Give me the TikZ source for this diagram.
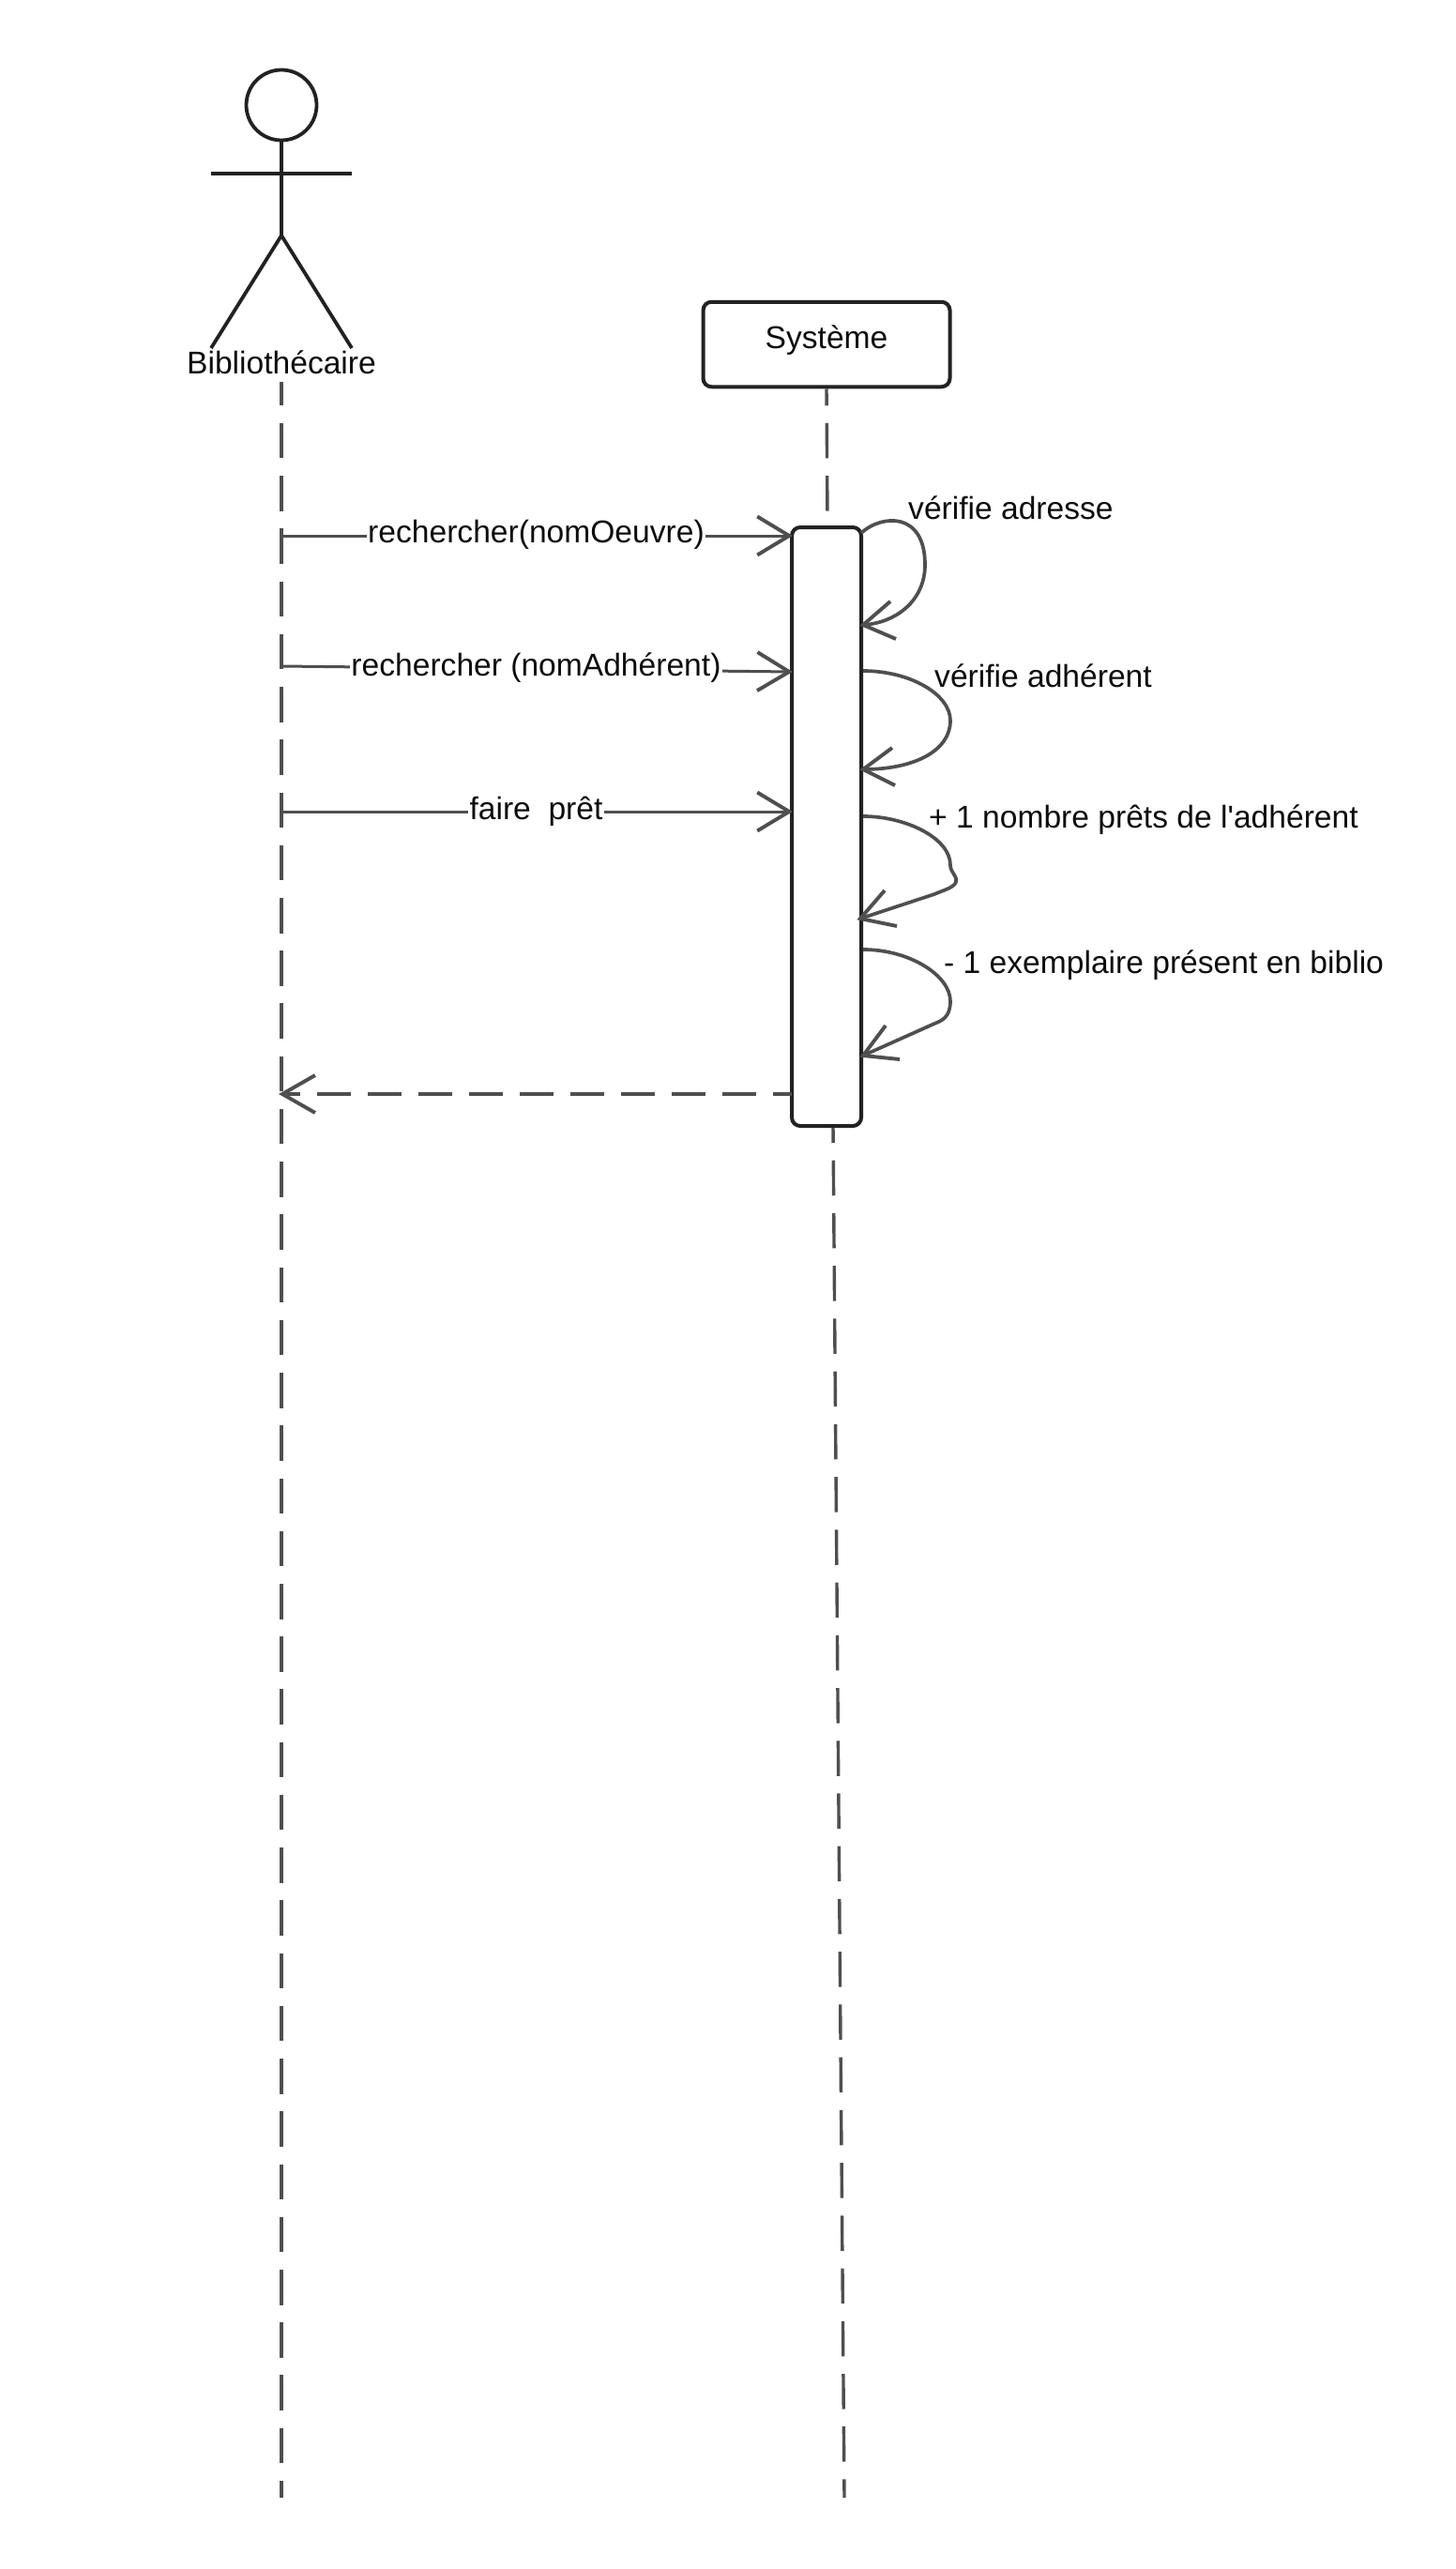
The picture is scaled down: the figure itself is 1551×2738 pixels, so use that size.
\documentclass[tikz,border=0pt]{standalone}
\usepackage{fontspec}
\setmainfont{Liberation Sans}
\newfontfamily\straightapo{Liberation Sans}
\usetikzlibrary{arrows.meta}
\definecolor{ink}{HTML}{222222}
\definecolor{wire}{HTML}{4F4F4F}
\definecolor{txt}{HTML}{0D0D0D}
\tikzset{
  figure/.style={draw=ink,line width=3.8pt},
  boxed/.style={draw=ink,line width=4pt,rounded corners=9pt,fill=white},
  lifeline/.style={draw=wire,line width=3.4pt,dash pattern=on 37.5pt off 18.73pt},
  msg/.style={draw=wire,line width=3pt,-{Straight Barb[length=34pt,width=41pt,line width=3.9pt]}},
  ret/.style={draw=wire,line width=3.6pt,dash pattern=on 36pt off 18pt,dash phase=16pt,-{Straight Barb[length=35pt,width=40pt,line width=3.9pt]}},
  self/.style={draw=wire,line width=3.7pt,line join=round},
  barb/.style={draw=wire,line width=3.9pt,line join=miter},
  lbl/.style={text=txt,font=\fontsize{33.6}{40}\selectfont,inner sep=0pt},
  onmsg/.style={lbl,fill=white,text height=22pt,text depth=8pt,inner xsep=1.5pt},
}
\begin{document}
\begin{tikzpicture}[x=1pt,y=-1pt]
\useasboundingbox (0,0) rectangle (1551,2738);
\fill[white] (0,0) rectangle (1551,2738);

% actor
\draw[figure] (300,112) circle (37.5);
\draw[figure] (300,150) -- (300,251);
\draw[figure,line width=4.2pt] (225,185) -- (375,185);
\draw[figure] (225,371) -- (300,251) -- (375,371);
\node[lbl,anchor=base,text depth=9pt] (bib) at (300,398) {Bibliothécaire};

% objet
\node[boxed,minimum width=263pt,minimum height=90.5pt,inner sep=0pt] (sys) at (881,367) {};
\node[lbl,anchor=base] (systxt) at (881,371) {Système};

% lifelines
\coordinate (end1) at (300,2662);
\coordinate (top2) at (882,552);
\coordinate (start2) at (888,1200);
\coordinate (end2) at (900,2662);
\draw[lifeline,dash phase=12.5pt] (bib.south) -- (end1);
\draw[lifeline,dash phase=19.5pt] (sys.south) -- (top2);
\draw[lifeline,dash phase=19.5pt] (start2) -- (end2);

% activation
\node[boxed,minimum width=74pt,minimum height=638pt,inner sep=0pt] (act) at (881,881) {};

% messages
\coordinate (m1a) at (300,571); \coordinate (m1b) at (845,571);
\coordinate (m2a) at (300,710); \coordinate (m2b) at (845,716);
\coordinate (m3a) at (300,865); \coordinate (m3b) at (845,865);
\draw[msg] (m1a) -- node[onmsg,xshift=-1pt] (m1) {rechercher(nomOeuvre)} (m1b);
\draw[msg] (m2a) -- node[onmsg,xshift=-1pt] (m2) {rechercher (nomAdhérent)} (m2b);
\draw[msg] (m3a) -- node[onmsg,xshift=-1pt,yshift=-1pt] (m3) {faire\ \ prêt} (m3b);

\coordinate (r1) at (844,1166); \coordinate (r2) at (297,1166);
\draw[ret] (r1) -- (r2);

% self messages
\coordinate (s1) at (918,568); \coordinate (t1) at (920,666);
\draw[self] (s1) .. controls (940,548) and (986,545) .. (986,602) .. controls (986,640) and (955,664) .. (t1);
\draw[barb] (949,641) -- (t1) -- (955,681);

\coordinate (s2) at (920,715); \coordinate (t2) at (920,820);
\draw[self] (s2) .. controls (970,715) and (1013,740) .. (1013,768) .. controls (1013,800) and (975,820) .. (t2);
\draw[barb] (951,797) -- (t2) -- (954,837);

\coordinate (s3) at (920,870); \coordinate (t3) at (917,979);
\draw[self] (s3) .. controls (965,870) and (1013,893) .. (1013,922) .. controls (1013,930) and (1021,934) .. (1019,940) .. controls (1017,946) and (1005,949) .. (996,953) -- (t3);
\draw[barb] (943,949) -- (t3) -- (956,987);

\coordinate (s4) at (920,1012); \coordinate (t4) at (920,1125);
\draw[self] (s4) .. controls (970,1012) and (1013,1040) .. (1013,1067) .. controls (1013,1085) and (1003,1088) .. (996,1091) -- (t4);
\draw[barb] (944,1093) -- (t4) -- (959,1129);

\node[lbl,anchor=base west] (l1) at (968,553) {vérifie adresse};
\node[lbl,anchor=base west] (l2) at (996,732) {vérifie adhérent};
\node[lbl,anchor=base west] (l3) at (990,882) {+ 1 nombre prêts de l{\straightapo '}adhérent};
\node[lbl,anchor=base west] (l4) at (1006,1037) {- 1 exemplaire présent en biblio};
\end{tikzpicture}
\end{document}
